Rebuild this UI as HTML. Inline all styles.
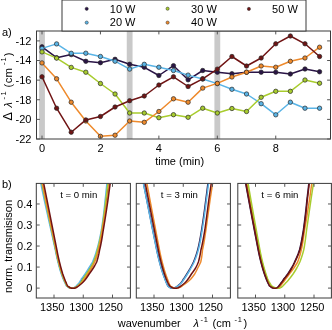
<!DOCTYPE html><html><head><meta charset="utf-8"><style>
html,body{margin:0;padding:0;background:#fff;}
svg{display:block;will-change:transform;}
text{font-family:"Liberation Sans", sans-serif;fill:#000;}
</style></head><body>
<svg xmlns="http://www.w3.org/2000/svg" width="332" height="330" viewBox="0 0 332 330">
<rect x="0" y="0" width="332" height="330" fill="#fff"/>
<rect x="39.10" y="31.00" width="5.80" height="108.00" fill="#c9c9c9"/>
<rect x="126.76" y="31.00" width="5.80" height="108.00" fill="#c9c9c9"/>
<rect x="214.42" y="31.00" width="5.80" height="108.00" fill="#c9c9c9"/>
<defs><clipPath id="ca"><rect x="36.5" y="31.0" width="294.0" height="108.0"/></clipPath>
<clipPath id="cb0"><rect x="36.3" y="183.4" width="94.1" height="114.6"/></clipPath>
<clipPath id="cb1"><rect x="136.3" y="183.4" width="94.1" height="114.6"/></clipPath>
<clipPath id="cb2"><rect x="237.8" y="183.4" width="93.6" height="114.6"/></clipPath>
</defs>
<g clip-path="url(#ca)">
<polyline points="42.00,46.80 56.61,57.70 71.22,54.60 85.83,61.30 100.44,62.70 115.05,59.30 129.66,64.30 144.27,67.30 158.88,75.50 173.49,65.70 188.10,79.80 202.71,70.50 217.32,72.20 231.93,73.70 246.54,72.20 261.15,72.20 275.76,72.20 290.37,74.00 304.98,69.00 319.59,71.80" fill="none" stroke="#2a1446" stroke-width="1.5" stroke-linejoin="round"/>
<circle cx="42.00" cy="46.80" r="2.2" fill="#2a1446" stroke="#2a2a2a" stroke-width="0.7"/>
<circle cx="56.61" cy="57.70" r="2.2" fill="#2a1446" stroke="#2a2a2a" stroke-width="0.7"/>
<circle cx="71.22" cy="54.60" r="2.2" fill="#2a1446" stroke="#2a2a2a" stroke-width="0.7"/>
<circle cx="85.83" cy="61.30" r="2.2" fill="#2a1446" stroke="#2a2a2a" stroke-width="0.7"/>
<circle cx="100.44" cy="62.70" r="2.2" fill="#2a1446" stroke="#2a2a2a" stroke-width="0.7"/>
<circle cx="115.05" cy="59.30" r="2.2" fill="#2a1446" stroke="#2a2a2a" stroke-width="0.7"/>
<circle cx="129.66" cy="64.30" r="2.2" fill="#2a1446" stroke="#2a2a2a" stroke-width="0.7"/>
<circle cx="144.27" cy="67.30" r="2.2" fill="#2a1446" stroke="#2a2a2a" stroke-width="0.7"/>
<circle cx="158.88" cy="75.50" r="2.2" fill="#2a1446" stroke="#2a2a2a" stroke-width="0.7"/>
<circle cx="173.49" cy="65.70" r="2.2" fill="#2a1446" stroke="#2a2a2a" stroke-width="0.7"/>
<circle cx="188.10" cy="79.80" r="2.2" fill="#2a1446" stroke="#2a2a2a" stroke-width="0.7"/>
<circle cx="202.71" cy="70.50" r="2.2" fill="#2a1446" stroke="#2a2a2a" stroke-width="0.7"/>
<circle cx="217.32" cy="72.20" r="2.2" fill="#2a1446" stroke="#2a2a2a" stroke-width="0.7"/>
<circle cx="231.93" cy="73.70" r="2.2" fill="#2a1446" stroke="#2a2a2a" stroke-width="0.7"/>
<circle cx="246.54" cy="72.20" r="2.2" fill="#2a1446" stroke="#2a2a2a" stroke-width="0.7"/>
<circle cx="261.15" cy="72.20" r="2.2" fill="#2a1446" stroke="#2a2a2a" stroke-width="0.7"/>
<circle cx="275.76" cy="72.20" r="2.2" fill="#2a1446" stroke="#2a2a2a" stroke-width="0.7"/>
<circle cx="290.37" cy="74.00" r="2.2" fill="#2a1446" stroke="#2a2a2a" stroke-width="0.7"/>
<circle cx="304.98" cy="69.00" r="2.2" fill="#2a1446" stroke="#2a2a2a" stroke-width="0.7"/>
<circle cx="319.59" cy="71.80" r="2.2" fill="#2a1446" stroke="#2a2a2a" stroke-width="0.7"/>
<polyline points="42.00,48.40 56.61,43.90 71.22,53.30 85.83,53.20 100.44,56.50 115.05,61.20 129.66,69.10 144.27,64.30 158.88,67.20 173.49,70.50 188.10,75.10 202.71,79.00 217.32,83.60 231.93,89.30 246.54,94.00 261.15,103.70 275.76,114.80 290.37,102.20 304.98,108.20 319.59,108.20" fill="none" stroke="#5ab4e6" stroke-width="1.5" stroke-linejoin="round"/>
<circle cx="42.00" cy="48.40" r="2.2" fill="#5ab4e6" stroke="#2a2a2a" stroke-width="0.7"/>
<circle cx="56.61" cy="43.90" r="2.2" fill="#5ab4e6" stroke="#2a2a2a" stroke-width="0.7"/>
<circle cx="71.22" cy="53.30" r="2.2" fill="#5ab4e6" stroke="#2a2a2a" stroke-width="0.7"/>
<circle cx="85.83" cy="53.20" r="2.2" fill="#5ab4e6" stroke="#2a2a2a" stroke-width="0.7"/>
<circle cx="100.44" cy="56.50" r="2.2" fill="#5ab4e6" stroke="#2a2a2a" stroke-width="0.7"/>
<circle cx="115.05" cy="61.20" r="2.2" fill="#5ab4e6" stroke="#2a2a2a" stroke-width="0.7"/>
<circle cx="129.66" cy="69.10" r="2.2" fill="#5ab4e6" stroke="#2a2a2a" stroke-width="0.7"/>
<circle cx="144.27" cy="64.30" r="2.2" fill="#5ab4e6" stroke="#2a2a2a" stroke-width="0.7"/>
<circle cx="158.88" cy="67.20" r="2.2" fill="#5ab4e6" stroke="#2a2a2a" stroke-width="0.7"/>
<circle cx="173.49" cy="70.50" r="2.2" fill="#5ab4e6" stroke="#2a2a2a" stroke-width="0.7"/>
<circle cx="188.10" cy="75.10" r="2.2" fill="#5ab4e6" stroke="#2a2a2a" stroke-width="0.7"/>
<circle cx="202.71" cy="79.00" r="2.2" fill="#5ab4e6" stroke="#2a2a2a" stroke-width="0.7"/>
<circle cx="217.32" cy="83.60" r="2.2" fill="#5ab4e6" stroke="#2a2a2a" stroke-width="0.7"/>
<circle cx="231.93" cy="89.30" r="2.2" fill="#5ab4e6" stroke="#2a2a2a" stroke-width="0.7"/>
<circle cx="246.54" cy="94.00" r="2.2" fill="#5ab4e6" stroke="#2a2a2a" stroke-width="0.7"/>
<circle cx="261.15" cy="103.70" r="2.2" fill="#5ab4e6" stroke="#2a2a2a" stroke-width="0.7"/>
<circle cx="275.76" cy="114.80" r="2.2" fill="#5ab4e6" stroke="#2a2a2a" stroke-width="0.7"/>
<circle cx="290.37" cy="102.20" r="2.2" fill="#5ab4e6" stroke="#2a2a2a" stroke-width="0.7"/>
<circle cx="304.98" cy="108.20" r="2.2" fill="#5ab4e6" stroke="#2a2a2a" stroke-width="0.7"/>
<circle cx="319.59" cy="108.20" r="2.2" fill="#5ab4e6" stroke="#2a2a2a" stroke-width="0.7"/>
<polyline points="42.00,51.90 56.61,58.10 71.22,67.40 85.83,72.20 100.44,83.50 115.05,94.00 129.66,113.00 144.27,113.00 158.88,117.70 173.49,114.70 188.10,117.30 202.71,108.20 217.32,113.00 231.93,108.50 246.54,111.50 261.15,97.30 275.76,91.30 290.37,91.30 304.98,80.00 319.59,83.20" fill="none" stroke="#a8cc2e" stroke-width="1.5" stroke-linejoin="round"/>
<circle cx="42.00" cy="51.90" r="2.2" fill="#a8cc2e" stroke="#2a2a2a" stroke-width="0.7"/>
<circle cx="56.61" cy="58.10" r="2.2" fill="#a8cc2e" stroke="#2a2a2a" stroke-width="0.7"/>
<circle cx="71.22" cy="67.40" r="2.2" fill="#a8cc2e" stroke="#2a2a2a" stroke-width="0.7"/>
<circle cx="85.83" cy="72.20" r="2.2" fill="#a8cc2e" stroke="#2a2a2a" stroke-width="0.7"/>
<circle cx="100.44" cy="83.50" r="2.2" fill="#a8cc2e" stroke="#2a2a2a" stroke-width="0.7"/>
<circle cx="115.05" cy="94.00" r="2.2" fill="#a8cc2e" stroke="#2a2a2a" stroke-width="0.7"/>
<circle cx="129.66" cy="113.00" r="2.2" fill="#a8cc2e" stroke="#2a2a2a" stroke-width="0.7"/>
<circle cx="144.27" cy="113.00" r="2.2" fill="#a8cc2e" stroke="#2a2a2a" stroke-width="0.7"/>
<circle cx="158.88" cy="117.70" r="2.2" fill="#a8cc2e" stroke="#2a2a2a" stroke-width="0.7"/>
<circle cx="173.49" cy="114.70" r="2.2" fill="#a8cc2e" stroke="#2a2a2a" stroke-width="0.7"/>
<circle cx="188.10" cy="117.30" r="2.2" fill="#a8cc2e" stroke="#2a2a2a" stroke-width="0.7"/>
<circle cx="202.71" cy="108.20" r="2.2" fill="#a8cc2e" stroke="#2a2a2a" stroke-width="0.7"/>
<circle cx="217.32" cy="113.00" r="2.2" fill="#a8cc2e" stroke="#2a2a2a" stroke-width="0.7"/>
<circle cx="231.93" cy="108.50" r="2.2" fill="#a8cc2e" stroke="#2a2a2a" stroke-width="0.7"/>
<circle cx="246.54" cy="111.50" r="2.2" fill="#a8cc2e" stroke="#2a2a2a" stroke-width="0.7"/>
<circle cx="261.15" cy="97.30" r="2.2" fill="#a8cc2e" stroke="#2a2a2a" stroke-width="0.7"/>
<circle cx="275.76" cy="91.30" r="2.2" fill="#a8cc2e" stroke="#2a2a2a" stroke-width="0.7"/>
<circle cx="290.37" cy="91.30" r="2.2" fill="#a8cc2e" stroke="#2a2a2a" stroke-width="0.7"/>
<circle cx="304.98" cy="80.00" r="2.2" fill="#a8cc2e" stroke="#2a2a2a" stroke-width="0.7"/>
<circle cx="319.59" cy="83.20" r="2.2" fill="#a8cc2e" stroke="#2a2a2a" stroke-width="0.7"/>
<polyline points="42.00,62.90 56.61,78.80 71.22,102.20 85.83,121.00 100.44,136.30 115.05,135.20 129.66,121.00 144.27,122.30 158.88,111.50 173.49,98.80 188.10,102.20 202.71,88.10 217.32,83.40 231.93,77.00 246.54,72.20 261.15,66.00 275.76,67.20 290.37,61.30 304.98,58.00 319.59,47.20" fill="none" stroke="#ee8a2c" stroke-width="1.5" stroke-linejoin="round"/>
<circle cx="42.00" cy="62.90" r="2.2" fill="#ee8a2c" stroke="#2a2a2a" stroke-width="0.7"/>
<circle cx="56.61" cy="78.80" r="2.2" fill="#ee8a2c" stroke="#2a2a2a" stroke-width="0.7"/>
<circle cx="71.22" cy="102.20" r="2.2" fill="#ee8a2c" stroke="#2a2a2a" stroke-width="0.7"/>
<circle cx="85.83" cy="121.00" r="2.2" fill="#ee8a2c" stroke="#2a2a2a" stroke-width="0.7"/>
<circle cx="100.44" cy="136.30" r="2.2" fill="#ee8a2c" stroke="#2a2a2a" stroke-width="0.7"/>
<circle cx="115.05" cy="135.20" r="2.2" fill="#ee8a2c" stroke="#2a2a2a" stroke-width="0.7"/>
<circle cx="129.66" cy="121.00" r="2.2" fill="#ee8a2c" stroke="#2a2a2a" stroke-width="0.7"/>
<circle cx="144.27" cy="122.30" r="2.2" fill="#ee8a2c" stroke="#2a2a2a" stroke-width="0.7"/>
<circle cx="158.88" cy="111.50" r="2.2" fill="#ee8a2c" stroke="#2a2a2a" stroke-width="0.7"/>
<circle cx="173.49" cy="98.80" r="2.2" fill="#ee8a2c" stroke="#2a2a2a" stroke-width="0.7"/>
<circle cx="188.10" cy="102.20" r="2.2" fill="#ee8a2c" stroke="#2a2a2a" stroke-width="0.7"/>
<circle cx="202.71" cy="88.10" r="2.2" fill="#ee8a2c" stroke="#2a2a2a" stroke-width="0.7"/>
<circle cx="217.32" cy="83.40" r="2.2" fill="#ee8a2c" stroke="#2a2a2a" stroke-width="0.7"/>
<circle cx="231.93" cy="77.00" r="2.2" fill="#ee8a2c" stroke="#2a2a2a" stroke-width="0.7"/>
<circle cx="246.54" cy="72.20" r="2.2" fill="#ee8a2c" stroke="#2a2a2a" stroke-width="0.7"/>
<circle cx="261.15" cy="66.00" r="2.2" fill="#ee8a2c" stroke="#2a2a2a" stroke-width="0.7"/>
<circle cx="275.76" cy="67.20" r="2.2" fill="#ee8a2c" stroke="#2a2a2a" stroke-width="0.7"/>
<circle cx="290.37" cy="61.30" r="2.2" fill="#ee8a2c" stroke="#2a2a2a" stroke-width="0.7"/>
<circle cx="304.98" cy="58.00" r="2.2" fill="#ee8a2c" stroke="#2a2a2a" stroke-width="0.7"/>
<circle cx="319.59" cy="47.20" r="2.2" fill="#ee8a2c" stroke="#2a2a2a" stroke-width="0.7"/>
<polyline points="42.00,76.80 56.61,108.20 71.22,132.20 85.83,119.90 100.44,116.50 115.05,107.00 129.66,100.70 144.27,96.00 158.88,85.00 173.49,76.80 188.10,86.50 202.71,78.80 217.32,69.10 231.93,56.50 246.54,66.00 261.15,58.00 275.76,43.80 290.37,36.00 304.98,43.80 319.59,56.50" fill="none" stroke="#701414" stroke-width="1.5" stroke-linejoin="round"/>
<circle cx="42.00" cy="76.80" r="2.2" fill="#701414" stroke="#2a2a2a" stroke-width="0.7"/>
<circle cx="56.61" cy="108.20" r="2.2" fill="#701414" stroke="#2a2a2a" stroke-width="0.7"/>
<circle cx="71.22" cy="132.20" r="2.2" fill="#701414" stroke="#2a2a2a" stroke-width="0.7"/>
<circle cx="85.83" cy="119.90" r="2.2" fill="#701414" stroke="#2a2a2a" stroke-width="0.7"/>
<circle cx="100.44" cy="116.50" r="2.2" fill="#701414" stroke="#2a2a2a" stroke-width="0.7"/>
<circle cx="115.05" cy="107.00" r="2.2" fill="#701414" stroke="#2a2a2a" stroke-width="0.7"/>
<circle cx="129.66" cy="100.70" r="2.2" fill="#701414" stroke="#2a2a2a" stroke-width="0.7"/>
<circle cx="144.27" cy="96.00" r="2.2" fill="#701414" stroke="#2a2a2a" stroke-width="0.7"/>
<circle cx="158.88" cy="85.00" r="2.2" fill="#701414" stroke="#2a2a2a" stroke-width="0.7"/>
<circle cx="173.49" cy="76.80" r="2.2" fill="#701414" stroke="#2a2a2a" stroke-width="0.7"/>
<circle cx="188.10" cy="86.50" r="2.2" fill="#701414" stroke="#2a2a2a" stroke-width="0.7"/>
<circle cx="202.71" cy="78.80" r="2.2" fill="#701414" stroke="#2a2a2a" stroke-width="0.7"/>
<circle cx="217.32" cy="69.10" r="2.2" fill="#701414" stroke="#2a2a2a" stroke-width="0.7"/>
<circle cx="231.93" cy="56.50" r="2.2" fill="#701414" stroke="#2a2a2a" stroke-width="0.7"/>
<circle cx="246.54" cy="66.00" r="2.2" fill="#701414" stroke="#2a2a2a" stroke-width="0.7"/>
<circle cx="261.15" cy="58.00" r="2.2" fill="#701414" stroke="#2a2a2a" stroke-width="0.7"/>
<circle cx="275.76" cy="43.80" r="2.2" fill="#701414" stroke="#2a2a2a" stroke-width="0.7"/>
<circle cx="290.37" cy="36.00" r="2.2" fill="#701414" stroke="#2a2a2a" stroke-width="0.7"/>
<circle cx="304.98" cy="43.80" r="2.2" fill="#701414" stroke="#2a2a2a" stroke-width="0.7"/>
<circle cx="319.59" cy="56.50" r="2.2" fill="#701414" stroke="#2a2a2a" stroke-width="0.7"/>
</g>
<rect x="36.50" y="31.00" width="294.00" height="108.00" fill="none" stroke="#3a3a3a" stroke-width="1"/>
<path d="M42.00 139.00V135.60M42.00 31.00V34.40M100.44 139.00V135.60M100.44 31.00V34.40M158.88 139.00V135.60M158.88 31.00V34.40M217.32 139.00V135.60M217.32 31.00V34.40M275.76 139.00V135.60M275.76 31.00V34.40M36.50 40.90H39.90M330.50 40.90H327.10M36.50 60.52H39.90M330.50 60.52H327.10M36.50 80.14H39.90M330.50 80.14H327.10M36.50 99.76H39.90M330.50 99.76H327.10M36.50 119.38H39.90M330.50 119.38H327.10M36.50 139.00H39.90M330.50 139.00H327.10" stroke="#555" stroke-width="1.0" fill="none"/>
<text x="42.00" y="151.8" font-size="11" text-anchor="middle">0</text>
<text x="100.44" y="151.8" font-size="11" text-anchor="middle">2</text>
<text x="158.88" y="151.8" font-size="11" text-anchor="middle">4</text>
<text x="217.32" y="151.8" font-size="11" text-anchor="middle">6</text>
<text x="275.76" y="151.8" font-size="11" text-anchor="middle">8</text>
<text x="31.4" y="44.80" font-size="11" text-anchor="end">-12</text>
<text x="31.4" y="64.42" font-size="11" text-anchor="end">-14</text>
<text x="31.4" y="84.04" font-size="11" text-anchor="end">-16</text>
<text x="31.4" y="103.66" font-size="11" text-anchor="end">-18</text>
<text x="31.4" y="123.28" font-size="11" text-anchor="end">-20</text>
<text x="31.4" y="142.90" font-size="11" text-anchor="end">-22</text>
<text x="155.2" y="165.4" font-size="11">time (min)</text>
<text x="2.0" y="35.8" font-size="11">a)</text>
<g transform="translate(11.8,0) rotate(-90)"><text x="-120.60" y="0.30" font-size="12.40">&#916;</text><text x="-107.40" y="0.00" font-size="11.00" font-style="italic">&#955;</text><text x="-99.60" y="-5.90" font-size="7.50">-</text><text x="-95.60" y="-5.90" font-size="7.50">1</text><text x="-87.40" y="0.00" font-size="11.00">(</text><text x="-83.20" y="0.00" font-size="11.30">cm</text><text x="-65.00" y="-5.90" font-size="7.50">-</text><text x="-61.60" y="-5.90" font-size="7.50">1</text><text x="-56.30" y="0.00" font-size="11.00">)</text></g>
<rect x="62" y="0" width="244" height="31" fill="#fff" stroke="#3a3a3a" stroke-width="1"/>
<circle cx="86.7" cy="8.8" r="1.6" fill="#2a1446" stroke="#2a2a2a" stroke-width="0.5"/>
<circle cx="86.7" cy="22.6" r="1.6" fill="#5ab4e6" stroke="#2a2a2a" stroke-width="0.5"/>
<circle cx="167.6" cy="8.7" r="1.6" fill="#a8cc2e" stroke="#2a2a2a" stroke-width="0.5"/>
<circle cx="167.6" cy="22.6" r="1.6" fill="#ee8a2c" stroke="#2a2a2a" stroke-width="0.5"/>
<circle cx="248.9" cy="8.9" r="1.6" fill="#701414" stroke="#2a2a2a" stroke-width="0.5"/>
<text x="135.5" y="12.7" font-size="11" text-anchor="end">10 W</text>
<text x="135.5" y="26.0" font-size="11" text-anchor="end">20 W</text>
<text x="216.8" y="12.7" font-size="11" text-anchor="end">30 W</text>
<text x="216.8" y="26.0" font-size="11" text-anchor="end">40 W</text>
<text x="297.8" y="12.7" font-size="11" text-anchor="end">50 W</text>
<g clip-path="url(#cb0)">
<path d="M40.07 175.00 40.27 176.00 40.47 177.00 40.67 178.00 40.87 179.00 41.07 180.00 41.27 181.00 41.47 182.00 41.67 183.00 41.87 184.00 42.08 185.00 42.28 186.00 42.49 187.00 42.70 188.00 42.91 189.00 43.12 190.00 43.33 191.00 43.53 192.00 43.74 193.00 43.95 194.00 44.16 195.00 44.37 196.00 44.58 197.00 44.78 198.00 44.99 199.00 45.20 200.00 45.41 201.00 45.62 202.00 45.84 203.00 46.05 204.00 46.26 205.00 46.47 206.00 46.68 207.00 46.90 208.00 47.11 209.00 47.32 210.00 47.53 211.00 47.74 212.00 47.96 213.00 48.17 214.00 48.38 215.00 48.59 216.00 48.80 217.00 49.01 218.00 49.23 219.00 49.44 220.00 49.65 221.00 49.86 222.00 50.07 223.00 50.29 224.00 50.50 225.00 50.71 226.00 50.92 227.00 51.13 228.00 51.34 229.00 51.56 230.00 51.77 231.00 51.98 232.00 52.19 233.00 52.40 234.00 52.61 235.00 52.82 236.00 53.04 237.00 53.25 238.00 53.46 239.00 53.67 240.00 53.88 241.00 54.09 242.00 54.30 243.00 54.52 244.00 54.73 245.00 54.94 246.00 55.15 247.00 55.36 248.00 55.57 249.00 55.78 250.00 55.98 251.00 56.17 252.00 56.38 253.00 56.58 254.00 56.80 255.00 57.02 256.00 57.24 257.00 57.47 258.00 57.70 259.00 57.94 260.00 58.18 261.00 58.43 262.00 58.68 263.00 58.94 264.00 59.20 265.00 59.47 266.00 59.74 267.00 60.02 268.00 60.30 269.00 60.59 270.00 60.89 271.00 61.19 272.00 61.51 273.00 61.83 274.00 62.18 275.00 62.54 276.00 62.92 277.00 63.30 278.00 63.68 279.00 64.11 280.00 64.56 281.00 65.03 282.00 65.53 283.00 65.98 284.00 66.47 285.00 67.01 286.00 68.43 287.01 69.87 287.73 71.35 288.16 72.76 288.30 73.71 288.16 74.68 287.73 75.69 287.01 77.00 286.00 78.03 285.00 79.05 284.00 80.02 283.00 80.69 282.00 81.28 281.00 81.82 280.00 82.31 279.00 83.09 278.00 83.84 277.00 84.54 276.00 85.23 275.00 85.90 274.00 86.65 273.00 87.38 272.00 88.10 271.00 88.80 270.00 89.47 269.00 90.13 268.00 90.74 267.00 91.34 266.00 91.91 265.00 92.46 264.00 92.99 263.00 93.51 262.00 93.93 261.00 94.33 260.00 94.73 259.00 95.11 258.00 95.48 257.00 95.83 256.00 96.17 255.00 96.49 254.00 96.80 253.00 97.09 252.00 97.37 251.00 97.64 250.00 97.95 249.00 98.25 248.00 98.53 247.00 98.81 246.00 99.07 245.00 99.32 244.00 99.57 243.00 99.81 242.00 100.05 241.00 100.28 240.00 100.50 239.00 100.72 238.00 100.94 237.00 101.15 236.00 101.35 235.00 101.55 234.00 101.75 233.00 101.94 232.00 102.14 231.00 102.33 230.00 102.49 229.00 102.65 228.00 102.81 227.00 102.96 226.00 103.11 225.00 103.26 224.00 103.41 223.00 103.56 222.00 103.70 221.00 103.84 220.00 103.98 219.00 104.12 218.00 104.26 217.00 104.39 216.00 104.52 215.00 104.65 214.00 104.78 213.00 104.91 212.00 105.03 211.00 105.15 210.00 105.27 209.00 105.39 208.00 105.51 207.00 105.62 206.00 105.73 205.00 105.84 204.00 105.95 203.00 106.05 202.00 106.15 201.00 106.26 200.00 106.37 199.00 106.49 198.00 106.60 197.00 106.71 196.00 106.82 195.00 106.93 194.00 107.03 193.00 107.14 192.00 107.24 191.00 107.34 190.00 107.44 189.00 107.54 188.00 107.64 187.00 107.73 186.00 107.83 185.00 107.92 184.00 108.05 183.00 108.18 182.00 108.32 181.00 108.45 180.00 108.58 179.00 108.71 178.00 108.84 177.00 108.97 176.00 109.10 175.00" fill="none" stroke="#2a1446" stroke-width="1.5" stroke-linejoin="round"/>
<path d="M39.17 175.00 39.37 176.00 39.57 177.00 39.77 178.00 39.97 179.00 40.17 180.00 40.37 181.00 40.57 182.00 40.77 183.00 40.97 184.00 41.18 185.00 41.38 186.00 41.59 187.00 41.80 188.00 42.01 189.00 42.22 190.00 42.43 191.00 42.63 192.00 42.84 193.00 43.05 194.00 43.26 195.00 43.47 196.00 43.68 197.00 43.88 198.00 44.09 199.00 44.30 200.00 44.52 201.00 44.74 202.00 44.97 203.00 45.19 204.00 45.41 205.00 45.63 206.00 45.85 207.00 46.08 208.00 46.30 209.00 46.52 210.00 46.74 211.00 46.96 212.00 47.19 213.00 47.41 214.00 47.63 215.00 47.85 216.00 48.07 217.00 48.29 218.00 48.52 219.00 48.74 220.00 48.96 221.00 49.18 222.00 49.40 223.00 49.63 224.00 49.85 225.00 50.07 226.00 50.29 227.00 50.51 228.00 50.73 229.00 50.96 230.00 51.18 231.00 51.40 232.00 51.62 233.00 51.84 234.00 52.06 235.00 52.28 236.00 52.51 237.00 52.73 238.00 52.95 239.00 53.17 240.00 53.39 241.00 53.61 242.00 53.83 243.00 54.06 244.00 54.28 245.00 54.50 246.00 54.72 247.00 54.94 248.00 55.16 249.00 55.38 250.00 55.57 251.00 55.77 252.00 55.96 253.00 56.17 254.00 56.38 255.00 56.59 256.00 56.81 257.00 57.03 258.00 57.26 259.00 57.50 260.00 57.73 261.00 57.98 262.00 58.23 263.00 58.48 264.00 58.74 265.00 59.00 266.00 59.27 267.00 59.54 268.00 59.82 269.00 60.11 270.00 60.40 271.00 60.70 272.00 61.01 273.00 61.33 274.00 61.68 275.00 62.04 276.00 62.42 277.00 62.80 278.00 63.18 279.00 63.61 280.00 64.06 281.00 64.53 282.00 65.03 283.00 65.46 284.00 65.93 285.00 66.45 286.00 67.85 287.01 69.27 287.73 70.75 288.16 72.15 288.30 73.06 288.16 73.99 287.73 74.97 287.01 76.18 286.00 77.15 285.00 78.11 284.00 79.04 283.00 79.70 282.00 80.30 281.00 80.84 280.00 81.34 279.00 82.16 278.00 82.94 277.00 83.68 276.00 84.40 275.00 85.10 274.00 85.77 273.00 86.43 272.00 87.08 271.00 87.70 270.00 88.30 269.00 88.88 268.00 89.53 267.00 90.17 266.00 90.79 265.00 91.38 264.00 91.95 263.00 92.51 262.00 92.94 261.00 93.36 260.00 93.77 259.00 94.16 258.00 94.54 257.00 94.90 256.00 95.25 255.00 95.59 254.00 95.91 253.00 96.21 252.00 96.51 251.00 96.79 250.00 97.10 249.00 97.39 248.00 97.68 247.00 97.95 246.00 98.21 245.00 98.46 244.00 98.70 243.00 98.94 242.00 99.17 241.00 99.40 240.00 99.62 239.00 99.84 238.00 100.05 237.00 100.26 236.00 100.46 235.00 100.66 234.00 100.86 233.00 101.05 232.00 101.24 231.00 101.43 230.00 101.58 229.00 101.74 228.00 101.89 227.00 102.03 226.00 102.18 225.00 102.32 224.00 102.47 223.00 102.60 222.00 102.74 221.00 102.88 220.00 103.01 219.00 103.14 218.00 103.27 217.00 103.40 216.00 103.52 215.00 103.65 214.00 103.77 213.00 103.89 212.00 104.00 211.00 104.12 210.00 104.23 209.00 104.34 208.00 104.45 207.00 104.56 206.00 104.66 205.00 104.77 204.00 104.87 203.00 104.96 202.00 105.06 201.00 105.16 200.00 105.27 199.00 105.39 198.00 105.50 197.00 105.61 196.00 105.72 195.00 105.83 194.00 105.93 193.00 106.04 192.00 106.14 191.00 106.24 190.00 106.34 189.00 106.44 188.00 106.54 187.00 106.63 186.00 106.73 185.00 106.82 184.00 106.95 183.00 107.08 182.00 107.22 181.00 107.35 180.00 107.48 179.00 107.61 178.00 107.74 177.00 107.87 176.00 108.00 175.00" fill="none" stroke="#5ab4e6" stroke-width="1.5" stroke-linejoin="round"/>
<path d="M40.24 175.00 40.44 176.00 40.64 177.00 40.84 178.00 41.04 179.00 41.24 180.00 41.44 181.00 41.64 182.00 41.84 183.00 42.04 184.00 42.25 185.00 42.45 186.00 42.65 187.00 42.86 188.00 43.06 189.00 43.26 190.00 43.47 191.00 43.67 192.00 43.88 193.00 44.08 194.00 44.28 195.00 44.49 196.00 44.69 197.00 44.90 198.00 45.10 199.00 45.30 200.00 45.51 201.00 45.72 202.00 45.93 203.00 46.14 204.00 46.35 205.00 46.56 206.00 46.77 207.00 46.97 208.00 47.18 209.00 47.39 210.00 47.60 211.00 47.81 212.00 48.02 213.00 48.23 214.00 48.44 215.00 48.65 216.00 48.86 217.00 49.07 218.00 49.28 219.00 49.49 220.00 49.70 221.00 49.91 222.00 50.11 223.00 50.32 224.00 50.53 225.00 50.74 226.00 50.95 227.00 51.16 228.00 51.38 229.00 51.59 230.00 51.80 231.00 52.01 232.00 52.22 233.00 52.43 234.00 52.64 235.00 52.85 236.00 53.06 237.00 53.27 238.00 53.48 239.00 53.69 240.00 53.90 241.00 54.11 242.00 54.32 243.00 54.53 244.00 54.75 245.00 54.96 246.00 55.17 247.00 55.38 248.00 55.59 249.00 55.80 250.00 56.00 251.00 56.19 252.00 56.40 253.00 56.61 254.00 56.82 255.00 57.04 256.00 57.26 257.00 57.49 258.00 57.72 259.00 57.96 260.00 58.21 261.00 58.46 262.00 58.71 263.00 58.97 264.00 59.23 265.00 59.50 266.00 59.78 267.00 60.06 268.00 60.34 269.00 60.63 270.00 60.93 271.00 61.23 272.00 61.55 273.00 61.88 274.00 62.23 275.00 62.60 276.00 62.97 277.00 63.36 278.00 63.74 279.00 64.16 280.00 64.59 281.00 65.05 282.00 65.54 283.00 65.97 284.00 66.45 285.00 66.97 286.00 68.34 287.01 69.75 287.73 71.18 288.16 72.57 288.30 73.63 288.16 74.71 287.73 75.82 287.01 77.24 286.00 78.36 285.00 79.46 284.00 80.52 283.00 81.26 282.00 81.93 281.00 82.52 280.00 83.07 279.00 83.81 278.00 84.51 277.00 85.18 276.00 85.83 275.00 86.46 274.00 87.17 273.00 87.87 272.00 88.55 271.00 89.21 270.00 89.85 269.00 90.47 268.00 91.05 267.00 91.61 266.00 92.15 265.00 92.67 264.00 93.17 263.00 93.66 262.00 94.05 261.00 94.43 260.00 94.79 259.00 95.14 258.00 95.48 257.00 95.81 256.00 96.12 255.00 96.42 254.00 96.70 253.00 96.97 252.00 97.23 251.00 97.47 250.00 97.76 249.00 98.04 248.00 98.31 247.00 98.56 246.00 98.80 245.00 99.04 244.00 99.27 243.00 99.49 242.00 99.71 241.00 99.93 240.00 100.14 239.00 100.34 238.00 100.54 237.00 100.74 236.00 100.93 235.00 101.12 234.00 101.31 233.00 101.50 232.00 101.68 231.00 101.86 230.00 102.02 229.00 102.17 228.00 102.32 227.00 102.47 226.00 102.61 225.00 102.76 224.00 102.90 223.00 103.05 222.00 103.19 221.00 103.33 220.00 103.47 219.00 103.60 218.00 103.74 217.00 103.88 216.00 104.01 215.00 104.14 214.00 104.27 213.00 104.40 212.00 104.53 211.00 104.65 210.00 104.78 209.00 104.90 208.00 105.03 207.00 105.15 206.00 105.27 205.00 105.38 204.00 105.50 203.00 105.62 202.00 105.73 201.00 105.84 200.00 105.97 199.00 106.10 198.00 106.23 197.00 106.35 196.00 106.48 195.00 106.60 194.00 106.72 193.00 106.84 192.00 106.97 191.00 107.09 190.00 107.21 189.00 107.32 188.00 107.44 187.00 107.56 186.00 107.68 185.00 107.79 184.00 107.92 183.00 108.05 182.00 108.18 181.00 108.32 180.00 108.45 179.00 108.58 178.00 108.71 177.00 108.84 176.00 108.97 175.00" fill="none" stroke="#a8cc2e" stroke-width="1.5" stroke-linejoin="round"/>
<path d="M40.78 175.00 40.98 176.00 41.18 177.00 41.38 178.00 41.58 179.00 41.78 180.00 41.98 181.00 42.18 182.00 42.38 183.00 42.58 184.00 42.78 185.00 42.98 186.00 43.18 187.00 43.39 188.00 43.59 189.00 43.79 190.00 43.99 191.00 44.20 192.00 44.40 193.00 44.60 194.00 44.80 195.00 45.01 196.00 45.21 197.00 45.41 198.00 45.62 199.00 45.82 200.00 46.03 201.00 46.23 202.00 46.44 203.00 46.65 204.00 46.86 205.00 47.06 206.00 47.27 207.00 47.48 208.00 47.68 209.00 47.89 210.00 48.10 211.00 48.31 212.00 48.51 213.00 48.72 214.00 48.93 215.00 49.14 216.00 49.35 217.00 49.55 218.00 49.76 219.00 49.97 220.00 50.18 221.00 50.39 222.00 50.59 223.00 50.80 224.00 51.01 225.00 51.22 226.00 51.43 227.00 51.64 228.00 51.84 229.00 52.05 230.00 52.26 231.00 52.47 232.00 52.68 233.00 52.89 234.00 53.10 235.00 53.31 236.00 53.51 237.00 53.72 238.00 53.93 239.00 54.14 240.00 54.35 241.00 54.56 242.00 54.77 243.00 54.98 244.00 55.19 245.00 55.40 246.00 55.61 247.00 55.82 248.00 56.03 249.00 56.24 250.00 56.43 251.00 56.62 252.00 56.83 253.00 57.03 254.00 57.24 255.00 57.46 256.00 57.68 257.00 57.91 258.00 58.14 259.00 58.38 260.00 58.62 261.00 58.87 262.00 59.12 263.00 59.38 264.00 59.64 265.00 59.91 266.00 60.18 267.00 60.46 268.00 60.74 269.00 61.03 270.00 61.32 271.00 61.63 272.00 61.94 273.00 62.27 274.00 62.62 275.00 62.98 276.00 63.35 277.00 63.73 278.00 64.12 279.00 64.53 280.00 64.96 281.00 65.42 282.00 65.90 283.00 66.33 284.00 66.80 285.00 67.31 286.00 68.68 287.01 70.07 287.73 71.49 288.16 72.90 288.30 74.12 288.16 75.35 287.73 76.63 287.01 78.00 286.00 79.16 285.00 80.29 284.00 81.38 283.00 82.26 282.00 83.05 281.00 83.77 280.00 84.43 279.00 85.15 278.00 85.84 277.00 86.50 276.00 87.13 275.00 87.76 274.00 88.43 273.00 89.09 272.00 89.74 271.00 90.37 270.00 90.98 269.00 91.57 268.00 92.15 267.00 92.72 266.00 93.27 265.00 93.79 264.00 94.29 263.00 94.78 262.00 95.16 261.00 95.52 260.00 95.88 259.00 96.22 258.00 96.55 257.00 96.86 256.00 97.16 255.00 97.45 254.00 97.72 253.00 97.98 252.00 98.23 251.00 98.47 250.00 98.72 249.00 98.97 248.00 99.21 247.00 99.43 246.00 99.64 245.00 99.85 244.00 100.05 243.00 100.24 242.00 100.43 241.00 100.62 240.00 100.81 239.00 100.98 238.00 101.16 237.00 101.33 236.00 101.50 235.00 101.66 234.00 101.83 233.00 101.99 232.00 102.15 231.00 102.32 230.00 102.49 229.00 102.66 228.00 102.84 227.00 103.01 226.00 103.18 225.00 103.35 224.00 103.52 223.00 103.69 222.00 103.85 221.00 104.02 220.00 104.19 219.00 104.35 218.00 104.52 217.00 104.68 216.00 104.84 215.00 105.00 214.00 105.16 213.00 105.33 212.00 105.48 211.00 105.64 210.00 105.80 209.00 105.96 208.00 106.11 207.00 106.27 206.00 106.42 205.00 106.58 204.00 106.73 203.00 106.88 202.00 107.03 201.00 107.18 200.00 107.32 199.00 107.46 198.00 107.59 197.00 107.73 196.00 107.86 195.00 108.00 194.00 108.13 193.00 108.27 192.00 108.40 191.00 108.54 190.00 108.67 189.00 108.80 188.00 108.94 187.00 109.07 186.00 109.20 185.00 109.33 184.00 109.47 183.00 109.60 182.00 109.73 181.00 109.86 180.00 109.99 179.00 110.12 178.00 110.25 177.00 110.38 176.00 110.51 175.00" fill="none" stroke="#ee8a2c" stroke-width="1.5" stroke-linejoin="round"/>
<path d="M42.00 175.00 42.20 176.00 42.40 177.00 42.60 178.00 42.80 179.00 43.00 180.00 43.20 181.00 43.40 182.00 43.60 183.00 43.80 184.00 44.00 185.00 44.20 186.00 44.40 187.00 44.60 188.00 44.80 189.00 45.00 190.00 45.20 191.00 45.40 192.00 45.60 193.00 45.80 194.00 46.00 195.00 46.20 196.00 46.40 197.00 46.60 198.00 46.80 199.00 47.00 200.00 47.20 201.00 47.40 202.00 47.59 203.00 47.79 204.00 47.99 205.00 48.19 206.00 48.39 207.00 48.58 208.00 48.78 209.00 48.98 210.00 49.18 211.00 49.38 212.00 49.57 213.00 49.77 214.00 49.97 215.00 50.17 216.00 50.37 217.00 50.56 218.00 50.76 219.00 50.96 220.00 51.16 221.00 51.36 222.00 51.55 223.00 51.75 224.00 51.95 225.00 52.15 226.00 52.35 227.00 52.54 228.00 52.74 229.00 52.94 230.00 53.14 231.00 53.34 232.00 53.53 233.00 53.73 234.00 53.93 235.00 54.13 236.00 54.33 237.00 54.52 238.00 54.72 239.00 54.92 240.00 55.12 241.00 55.32 242.00 55.51 243.00 55.71 244.00 55.91 245.00 56.11 246.00 56.31 247.00 56.50 248.00 56.70 249.00 56.90 250.00 57.09 251.00 57.28 252.00 57.47 253.00 57.67 254.00 57.88 255.00 58.09 256.00 58.31 257.00 58.53 258.00 58.75 259.00 58.98 260.00 59.22 261.00 59.46 262.00 59.71 263.00 59.96 264.00 60.21 265.00 60.47 266.00 60.74 267.00 61.01 268.00 61.29 269.00 61.57 270.00 61.86 271.00 62.15 272.00 62.46 273.00 62.78 274.00 63.13 275.00 63.48 276.00 63.85 277.00 64.22 278.00 64.61 279.00 65.00 280.00 65.41 281.00 65.85 282.00 66.31 283.00 66.72 284.00 67.16 285.00 67.65 286.00 68.96 287.01 70.28 287.73 71.65 288.16 73.03 288.30 74.41 288.16 75.82 287.73 77.26 287.01 78.65 286.00 79.87 285.00 81.07 284.00 82.21 283.00 83.23 282.00 84.16 281.00 85.00 280.00 85.77 279.00 86.51 278.00 87.21 277.00 87.88 276.00 88.53 275.00 89.17 274.00 89.90 273.00 90.62 272.00 91.33 271.00 92.01 270.00 92.68 269.00 93.33 268.00 93.94 267.00 94.53 266.00 95.10 265.00 95.65 264.00 96.18 263.00 96.69 262.00 97.00 261.00 97.30 260.00 97.58 259.00 97.86 258.00 98.12 257.00 98.37 256.00 98.60 255.00 98.83 254.00 99.03 253.00 99.23 252.00 99.41 251.00 99.58 250.00 99.83 249.00 100.07 248.00 100.30 247.00 100.52 246.00 100.73 245.00 100.92 244.00 101.12 243.00 101.31 242.00 101.49 241.00 101.68 240.00 101.85 239.00 102.03 238.00 102.20 237.00 102.36 236.00 102.53 235.00 102.68 234.00 102.84 233.00 103.00 232.00 103.16 231.00 103.32 230.00 103.48 229.00 103.65 228.00 103.81 227.00 103.98 226.00 104.14 225.00 104.30 224.00 104.46 223.00 104.62 222.00 104.79 221.00 104.94 220.00 105.10 219.00 105.26 218.00 105.42 217.00 105.58 216.00 105.73 215.00 105.89 214.00 106.04 213.00 106.20 212.00 106.35 211.00 106.50 210.00 106.65 209.00 106.80 208.00 106.96 207.00 107.10 206.00 107.25 205.00 107.40 204.00 107.55 203.00 107.70 202.00 107.84 201.00 107.99 200.00 108.12 199.00 108.26 198.00 108.39 197.00 108.53 196.00 108.66 195.00 108.79 194.00 108.93 193.00 109.06 192.00 109.19 191.00 109.33 190.00 109.46 189.00 109.59 188.00 109.73 187.00 109.86 186.00 109.99 185.00 110.12 184.00 110.25 183.00 110.39 182.00 110.52 181.00 110.65 180.00 110.78 179.00 110.91 178.00 111.04 177.00 111.17 176.00 111.30 175.00" fill="none" stroke="#701414" stroke-width="1.5" stroke-linejoin="round"/>
</g>
<rect x="36.30" y="183.40" width="94.10" height="114.60" fill="none" stroke="#3a3a3a" stroke-width="1"/>
<g clip-path="url(#cb1)">
<path d="M141.93 175.00 142.13 176.00 142.33 177.00 142.53 178.00 142.73 179.00 142.93 180.00 143.13 181.00 143.33 182.00 143.53 183.00 143.73 184.00 143.92 185.00 144.12 186.00 144.32 187.00 144.51 188.00 144.71 189.00 144.91 190.00 145.10 191.00 145.30 192.00 145.50 193.00 145.69 194.00 145.89 195.00 146.09 196.00 146.28 197.00 146.48 198.00 146.68 199.00 146.88 200.00 147.07 201.00 147.27 202.00 147.47 203.00 147.67 204.00 147.86 205.00 148.06 206.00 148.26 207.00 148.46 208.00 148.66 209.00 148.86 210.00 149.05 211.00 149.25 212.00 149.45 213.00 149.65 214.00 149.85 215.00 150.05 216.00 150.25 217.00 150.44 218.00 150.64 219.00 150.84 220.00 151.04 221.00 151.24 222.00 151.44 223.00 151.64 224.00 151.84 225.00 152.04 226.00 152.24 227.00 152.44 228.00 152.64 229.00 152.84 230.00 153.04 231.00 153.24 232.00 153.44 233.00 153.64 234.00 153.84 235.00 154.04 236.00 154.24 237.00 154.44 238.00 154.65 239.00 154.85 240.00 155.05 241.00 155.25 242.00 155.45 243.00 155.65 244.00 155.85 245.00 156.05 246.00 156.26 247.00 156.46 248.00 156.66 249.00 156.86 250.00 157.07 251.00 157.28 252.00 157.49 253.00 157.71 254.00 157.94 255.00 158.17 256.00 158.40 257.00 158.64 258.00 158.89 259.00 159.14 260.00 159.39 261.00 159.65 262.00 159.92 263.00 160.19 264.00 160.46 265.00 160.74 266.00 161.03 267.00 161.32 268.00 161.62 269.00 161.92 270.00 162.23 271.00 162.55 272.00 162.88 273.00 163.22 274.00 163.56 275.00 163.92 276.00 164.29 277.00 164.67 278.00 165.06 279.00 165.41 280.00 165.77 281.00 166.15 282.00 166.56 283.00 166.99 284.00 167.45 285.00 167.95 286.00 169.16 287.01 170.37 287.73 171.59 288.16 172.78 288.30 173.89 288.16 175.00 287.73 176.10 287.01 177.57 286.00 178.69 285.00 179.80 284.00 180.86 283.00 181.64 282.00 182.34 281.00 182.96 280.00 183.54 279.00 184.27 278.00 184.96 277.00 185.61 276.00 186.24 275.00 186.86 274.00 187.49 273.00 188.11 272.00 188.71 271.00 189.29 270.00 189.85 269.00 190.39 268.00 190.96 267.00 191.51 266.00 192.04 265.00 192.55 264.00 193.04 263.00 193.51 262.00 193.93 261.00 194.33 260.00 194.73 259.00 195.11 258.00 195.47 257.00 195.83 256.00 196.17 255.00 196.49 254.00 196.80 253.00 197.10 252.00 197.39 251.00 197.66 250.00 197.93 249.00 198.18 248.00 198.42 247.00 198.65 246.00 198.87 245.00 199.08 244.00 199.29 243.00 199.49 242.00 199.68 241.00 199.88 240.00 200.06 239.00 200.25 238.00 200.43 237.00 200.60 236.00 200.77 235.00 200.94 234.00 201.10 233.00 201.27 232.00 201.43 231.00 201.60 230.00 201.75 229.00 201.91 228.00 202.06 227.00 202.22 226.00 202.37 225.00 202.52 224.00 202.67 223.00 202.82 222.00 202.96 221.00 203.11 220.00 203.26 219.00 203.40 218.00 203.54 217.00 203.68 216.00 203.82 215.00 203.96 214.00 204.10 213.00 204.24 212.00 204.38 211.00 204.51 210.00 204.64 209.00 204.78 208.00 204.91 207.00 205.04 206.00 205.17 205.00 205.30 204.00 205.42 203.00 205.55 202.00 205.67 201.00 205.80 200.00 205.93 199.00 206.06 198.00 206.19 197.00 206.33 196.00 206.46 195.00 206.58 194.00 206.71 193.00 206.84 192.00 206.97 191.00 207.10 190.00 207.22 189.00 207.35 188.00 207.47 187.00 207.60 186.00 207.72 185.00 207.85 184.00 207.98 183.00 208.11 182.00 208.24 181.00 208.37 180.00 208.50 179.00 208.63 178.00 208.76 177.00 208.89 176.00 209.02 175.00" fill="none" stroke="#2a1446" stroke-width="1.5" stroke-linejoin="round"/>
<path d="M141.73 175.00 141.93 176.00 142.13 177.00 142.33 178.00 142.53 179.00 142.73 180.00 142.93 181.00 143.13 182.00 143.33 183.00 143.53 184.00 143.72 185.00 143.92 186.00 144.12 187.00 144.31 188.00 144.51 189.00 144.71 190.00 144.90 191.00 145.10 192.00 145.30 193.00 145.49 194.00 145.69 195.00 145.89 196.00 146.08 197.00 146.28 198.00 146.48 199.00 146.68 200.00 146.87 201.00 147.07 202.00 147.27 203.00 147.47 204.00 147.66 205.00 147.86 206.00 148.06 207.00 148.26 208.00 148.46 209.00 148.66 210.00 148.85 211.00 149.05 212.00 149.25 213.00 149.45 214.00 149.65 215.00 149.85 216.00 150.05 217.00 150.24 218.00 150.44 219.00 150.64 220.00 150.84 221.00 151.04 222.00 151.24 223.00 151.44 224.00 151.64 225.00 151.84 226.00 152.04 227.00 152.24 228.00 152.44 229.00 152.64 230.00 152.84 231.00 153.04 232.00 153.24 233.00 153.44 234.00 153.64 235.00 153.84 236.00 154.04 237.00 154.24 238.00 154.45 239.00 154.65 240.00 154.85 241.00 155.05 242.00 155.25 243.00 155.45 244.00 155.65 245.00 155.85 246.00 156.06 247.00 156.26 248.00 156.46 249.00 156.66 250.00 156.87 251.00 157.08 252.00 157.29 253.00 157.51 254.00 157.74 255.00 157.97 256.00 158.20 257.00 158.44 258.00 158.69 259.00 158.94 260.00 159.19 261.00 159.45 262.00 159.72 263.00 159.99 264.00 160.26 265.00 160.54 266.00 160.83 267.00 161.12 268.00 161.42 269.00 161.72 270.00 162.03 271.00 162.35 272.00 162.68 273.00 163.02 274.00 163.36 275.00 163.72 276.00 164.09 277.00 164.47 278.00 164.86 279.00 165.22 280.00 165.59 281.00 165.98 282.00 166.40 283.00 166.84 284.00 167.31 285.00 167.82 286.00 169.07 287.01 170.31 287.73 171.56 288.16 172.79 288.30 173.97 288.16 175.14 287.73 176.31 287.01 177.84 286.00 179.02 285.00 180.18 284.00 181.30 283.00 182.12 282.00 182.86 281.00 183.53 280.00 184.14 279.00 184.87 278.00 185.56 277.00 186.21 276.00 186.84 275.00 187.46 274.00 188.09 273.00 188.71 272.00 189.31 271.00 189.89 270.00 190.45 269.00 190.99 268.00 191.56 267.00 192.11 266.00 192.64 265.00 193.15 264.00 193.64 263.00 194.11 262.00 194.53 261.00 194.93 260.00 195.33 259.00 195.71 258.00 196.07 257.00 196.43 256.00 196.77 255.00 197.09 254.00 197.40 253.00 197.70 252.00 197.99 251.00 198.26 250.00 198.53 249.00 198.78 248.00 199.02 247.00 199.25 246.00 199.47 245.00 199.68 244.00 199.89 243.00 200.09 242.00 200.28 241.00 200.48 240.00 200.66 239.00 200.85 238.00 201.03 237.00 201.20 236.00 201.37 235.00 201.54 234.00 201.70 233.00 201.87 232.00 202.03 231.00 202.20 230.00 202.35 229.00 202.51 228.00 202.66 227.00 202.82 226.00 202.97 225.00 203.12 224.00 203.27 223.00 203.42 222.00 203.56 221.00 203.71 220.00 203.86 219.00 204.00 218.00 204.14 217.00 204.28 216.00 204.42 215.00 204.56 214.00 204.70 213.00 204.84 212.00 204.98 211.00 205.11 210.00 205.24 209.00 205.38 208.00 205.51 207.00 205.64 206.00 205.77 205.00 205.90 204.00 206.02 203.00 206.15 202.00 206.27 201.00 206.40 200.00 206.53 199.00 206.66 198.00 206.79 197.00 206.93 196.00 207.06 195.00 207.18 194.00 207.31 193.00 207.44 192.00 207.57 191.00 207.70 190.00 207.82 189.00 207.95 188.00 208.07 187.00 208.20 186.00 208.32 185.00 208.45 184.00 208.58 183.00 208.71 182.00 208.84 181.00 208.97 180.00 209.10 179.00 209.23 178.00 209.36 177.00 209.49 176.00 209.62 175.00" fill="none" stroke="#5ab4e6" stroke-width="1.5" stroke-linejoin="round"/>
<path d="M145.19 175.00 145.39 176.00 145.59 177.00 145.79 178.00 145.99 179.00 146.19 180.00 146.39 181.00 146.59 182.00 146.79 183.00 146.99 184.00 147.18 185.00 147.36 186.00 147.55 187.00 147.73 188.00 147.92 189.00 148.10 190.00 148.29 191.00 148.47 192.00 148.66 193.00 148.84 194.00 149.03 195.00 149.21 196.00 149.40 197.00 149.58 198.00 149.77 199.00 149.96 200.00 150.14 201.00 150.33 202.00 150.52 203.00 150.70 204.00 150.89 205.00 151.08 206.00 151.26 207.00 151.45 208.00 151.64 209.00 151.83 210.00 152.02 211.00 152.20 212.00 152.39 213.00 152.58 214.00 152.77 215.00 152.96 216.00 153.14 217.00 153.33 218.00 153.52 219.00 153.71 220.00 153.90 221.00 154.09 222.00 154.28 223.00 154.47 224.00 154.66 225.00 154.85 226.00 155.04 227.00 155.23 228.00 155.42 229.00 155.61 230.00 155.80 231.00 155.99 232.00 156.18 233.00 156.37 234.00 156.56 235.00 156.76 236.00 156.95 237.00 157.14 238.00 157.33 239.00 157.52 240.00 157.71 241.00 157.91 242.00 158.10 243.00 158.29 244.00 158.48 245.00 158.68 246.00 158.87 247.00 159.06 248.00 159.25 249.00 159.45 250.00 159.64 251.00 159.84 252.00 160.05 253.00 160.26 254.00 160.48 255.00 160.70 256.00 160.93 257.00 161.16 258.00 161.40 259.00 161.64 260.00 161.89 261.00 162.14 262.00 162.40 263.00 162.66 264.00 162.93 265.00 163.20 266.00 163.48 267.00 163.76 268.00 164.05 269.00 164.34 270.00 164.64 271.00 164.95 272.00 165.28 273.00 165.61 274.00 165.95 275.00 166.30 276.00 166.66 277.00 167.04 278.00 167.42 279.00 167.79 280.00 168.18 281.00 168.59 282.00 169.02 283.00 169.48 284.00 169.97 285.00 170.51 286.00 171.81 287.01 173.11 287.73 174.41 288.16 175.76 288.30 177.30 288.16 178.84 287.73 180.38 287.01 182.12 286.00 183.53 285.00 184.92 284.00 186.25 283.00 187.54 282.00 188.73 281.00 189.81 280.00 190.83 279.00 191.66 278.00 192.46 277.00 193.23 276.00 193.97 275.00 194.71 274.00 195.25 273.00 195.78 272.00 196.30 271.00 196.80 270.00 197.29 269.00 197.75 268.00 198.29 267.00 198.82 266.00 199.32 265.00 199.81 264.00 200.28 263.00 200.73 262.00 200.94 261.00 201.13 260.00 201.32 259.00 201.49 258.00 201.66 257.00 201.81 256.00 201.95 255.00 202.07 254.00 202.19 253.00 202.29 252.00 202.38 251.00 202.45 250.00 202.68 249.00 202.90 248.00 203.11 247.00 203.31 246.00 203.49 245.00 203.67 244.00 203.85 243.00 204.02 242.00 204.19 241.00 204.36 240.00 204.53 239.00 204.69 238.00 204.85 237.00 205.00 236.00 205.15 235.00 205.30 234.00 205.45 233.00 205.61 232.00 205.76 231.00 205.91 230.00 206.04 229.00 206.18 228.00 206.32 227.00 206.45 226.00 206.59 225.00 206.72 224.00 206.86 223.00 207.00 222.00 207.13 221.00 207.27 220.00 207.41 219.00 207.55 218.00 207.69 217.00 207.82 216.00 207.96 215.00 208.10 214.00 208.24 213.00 208.38 212.00 208.52 211.00 208.66 210.00 208.80 209.00 208.94 208.00 209.08 207.00 209.22 206.00 209.36 205.00 209.50 204.00 209.64 203.00 209.78 202.00 209.92 201.00 210.06 200.00 210.21 199.00 210.36 198.00 210.51 197.00 210.66 196.00 210.82 195.00 210.97 194.00 211.12 193.00 211.28 192.00 211.43 191.00 211.59 190.00 211.74 189.00 211.90 188.00 212.06 187.00 212.21 186.00 212.37 185.00 212.53 184.00 212.67 183.00 212.80 182.00 212.93 181.00 213.06 180.00 213.19 179.00 213.32 178.00 213.45 177.00 213.58 176.00 213.71 175.00" fill="none" stroke="#ee8a2c" stroke-width="1.5" stroke-linejoin="round"/>
<path d="M143.58 175.00 143.78 176.00 143.98 177.00 144.18 178.00 144.38 179.00 144.58 180.00 144.78 181.00 144.98 182.00 145.18 183.00 145.38 184.00 145.57 185.00 145.77 186.00 145.97 187.00 146.16 188.00 146.36 189.00 146.56 190.00 146.75 191.00 146.95 192.00 147.15 193.00 147.34 194.00 147.54 195.00 147.74 196.00 147.93 197.00 148.13 198.00 148.32 199.00 148.52 200.00 148.72 201.00 148.91 202.00 149.11 203.00 149.31 204.00 149.50 205.00 149.70 206.00 149.90 207.00 150.09 208.00 150.29 209.00 150.48 210.00 150.68 211.00 150.88 212.00 151.07 213.00 151.27 214.00 151.46 215.00 151.66 216.00 151.86 217.00 152.05 218.00 152.25 219.00 152.44 220.00 152.64 221.00 152.84 222.00 153.03 223.00 153.23 224.00 153.42 225.00 153.62 226.00 153.82 227.00 154.01 228.00 154.21 229.00 154.40 230.00 154.60 231.00 154.79 232.00 154.99 233.00 155.19 234.00 155.38 235.00 155.58 236.00 155.77 237.00 155.97 238.00 156.16 239.00 156.36 240.00 156.55 241.00 156.75 242.00 156.95 243.00 157.14 244.00 157.34 245.00 157.53 246.00 157.73 247.00 157.92 248.00 158.12 249.00 158.31 250.00 158.51 251.00 158.71 252.00 158.92 253.00 159.14 254.00 159.35 255.00 159.58 256.00 159.80 257.00 160.04 258.00 160.27 259.00 160.52 260.00 160.76 261.00 161.02 262.00 161.28 263.00 161.54 264.00 161.81 265.00 162.08 266.00 162.36 267.00 162.64 268.00 162.93 269.00 163.22 270.00 163.52 271.00 163.83 272.00 164.15 273.00 164.48 274.00 164.82 275.00 165.17 276.00 165.53 277.00 165.90 278.00 166.28 279.00 166.69 280.00 167.12 281.00 167.57 282.00 168.05 283.00 168.56 284.00 169.10 285.00 169.69 286.00 171.13 287.01 172.56 287.73 174.00 288.16 175.42 288.30 176.74 288.16 178.05 287.73 179.37 287.01 180.97 286.00 182.23 285.00 183.48 284.00 184.67 283.00 185.65 282.00 186.55 281.00 187.36 280.00 188.11 279.00 188.83 278.00 189.52 277.00 190.17 276.00 190.80 275.00 191.43 274.00 192.17 273.00 192.90 272.00 193.62 271.00 194.31 270.00 194.99 269.00 195.65 268.00 196.15 267.00 196.64 266.00 197.11 265.00 197.55 264.00 197.98 263.00 198.39 262.00 198.67 261.00 198.93 260.00 199.18 259.00 199.42 258.00 199.65 257.00 199.86 256.00 200.07 255.00 200.26 254.00 200.43 253.00 200.60 252.00 200.75 251.00 200.89 250.00 201.15 249.00 201.39 248.00 201.63 247.00 201.86 246.00 202.07 245.00 202.28 244.00 202.48 243.00 202.68 242.00 202.88 241.00 203.07 240.00 203.26 239.00 203.45 238.00 203.63 237.00 203.81 236.00 203.98 235.00 204.16 234.00 204.33 233.00 204.50 232.00 204.67 231.00 204.85 230.00 204.98 229.00 205.12 228.00 205.25 227.00 205.39 226.00 205.52 225.00 205.65 224.00 205.79 223.00 205.92 222.00 206.06 221.00 206.19 220.00 206.32 219.00 206.45 218.00 206.59 217.00 206.72 216.00 206.85 215.00 206.98 214.00 207.11 213.00 207.24 212.00 207.37 211.00 207.51 210.00 207.64 209.00 207.77 208.00 207.90 207.00 208.03 206.00 208.15 205.00 208.28 204.00 208.41 203.00 208.54 202.00 208.67 201.00 208.80 200.00 208.94 199.00 209.09 198.00 209.23 197.00 209.38 196.00 209.52 195.00 209.67 194.00 209.82 193.00 209.96 192.00 210.11 191.00 210.26 190.00 210.40 189.00 210.55 188.00 210.70 187.00 210.85 186.00 210.99 185.00 211.14 184.00 211.28 183.00 211.41 182.00 211.54 181.00 211.67 180.00 211.80 179.00 211.93 178.00 212.06 177.00 212.19 176.00 212.32 175.00" fill="none" stroke="#701414" stroke-width="1.5" stroke-linejoin="round"/>
</g>
<rect x="136.30" y="183.40" width="94.10" height="114.60" fill="none" stroke="#3a3a3a" stroke-width="1"/>
<g clip-path="url(#cb2)">
<path d="M244.00 175.00 244.20 176.00 244.40 177.00 244.60 178.00 244.80 179.00 245.00 180.00 245.20 181.00 245.40 182.00 245.60 183.00 245.80 184.00 245.99 185.00 246.17 186.00 246.35 187.00 246.53 188.00 246.71 189.00 246.90 190.00 247.08 191.00 247.26 192.00 247.45 193.00 247.63 194.00 247.81 195.00 248.00 196.00 248.18 197.00 248.37 198.00 248.55 199.00 248.73 200.00 248.92 201.00 249.10 202.00 249.29 203.00 249.47 204.00 249.66 205.00 249.85 206.00 250.03 207.00 250.22 208.00 250.40 209.00 250.59 210.00 250.78 211.00 250.96 212.00 251.15 213.00 251.34 214.00 251.53 215.00 251.71 216.00 251.90 217.00 252.09 218.00 252.28 219.00 252.47 220.00 252.65 221.00 252.84 222.00 253.03 223.00 253.22 224.00 253.41 225.00 253.60 226.00 253.79 227.00 253.98 228.00 254.17 229.00 254.36 230.00 254.55 231.00 254.74 232.00 254.93 233.00 255.12 234.00 255.31 235.00 255.50 236.00 255.70 237.00 255.89 238.00 256.08 239.00 256.27 240.00 256.46 241.00 256.66 242.00 256.85 243.00 257.04 244.00 257.23 245.00 257.43 246.00 257.62 247.00 257.81 248.00 258.01 249.00 258.20 250.00 258.40 251.00 258.60 252.00 258.81 253.00 259.02 254.00 259.24 255.00 259.46 256.00 259.69 257.00 259.92 258.00 260.16 259.00 260.40 260.00 260.65 261.00 260.90 262.00 261.16 263.00 261.43 264.00 261.70 265.00 261.97 266.00 262.25 267.00 262.53 268.00 262.82 269.00 263.12 270.00 263.42 271.00 263.74 272.00 264.06 273.00 264.39 274.00 264.74 275.00 265.09 276.00 265.45 277.00 265.83 278.00 266.21 279.00 266.61 280.00 267.03 281.00 267.47 282.00 267.94 283.00 268.43 284.00 268.96 285.00 269.54 286.00 270.93 287.01 272.33 287.73 273.73 288.16 275.06 288.30 276.02 288.16 276.99 287.73 277.95 287.01 278.80 286.00 279.56 285.00 280.31 284.00 281.02 283.00 281.80 282.00 282.52 281.00 283.17 280.00 283.78 279.00 284.63 278.00 285.45 277.00 286.23 276.00 286.99 275.00 287.73 274.00 288.40 273.00 289.05 272.00 289.69 271.00 290.31 270.00 290.91 269.00 291.49 268.00 292.04 267.00 292.58 266.00 293.10 265.00 293.59 264.00 294.07 263.00 294.52 262.00 295.01 261.00 295.48 260.00 295.94 259.00 296.39 258.00 296.83 257.00 297.25 256.00 297.65 255.00 298.05 254.00 298.42 253.00 298.79 252.00 299.14 251.00 299.48 250.00 299.75 249.00 300.00 248.00 300.24 247.00 300.47 246.00 300.69 245.00 300.90 244.00 301.11 243.00 301.31 242.00 301.51 241.00 301.70 240.00 301.88 239.00 302.06 238.00 302.24 237.00 302.41 236.00 302.58 235.00 302.75 234.00 302.91 233.00 303.07 232.00 303.23 231.00 303.39 230.00 303.53 229.00 303.66 228.00 303.80 227.00 303.93 226.00 304.06 225.00 304.19 224.00 304.32 223.00 304.45 222.00 304.58 221.00 304.70 220.00 304.82 219.00 304.94 218.00 305.06 217.00 305.18 216.00 305.30 215.00 305.42 214.00 305.53 213.00 305.64 212.00 305.76 211.00 305.87 210.00 305.98 209.00 306.08 208.00 306.19 207.00 306.29 206.00 306.40 205.00 306.50 204.00 306.60 203.00 306.70 202.00 306.79 201.00 306.89 200.00 307.01 199.00 307.14 198.00 307.26 197.00 307.38 196.00 307.50 195.00 307.62 194.00 307.74 193.00 307.86 192.00 307.98 191.00 308.10 190.00 308.21 189.00 308.33 188.00 308.44 187.00 308.55 186.00 308.66 185.00 308.78 184.00 308.91 183.00 309.04 182.00 309.17 181.00 309.30 180.00 309.43 179.00 309.56 178.00 309.69 177.00 309.82 176.00 309.95 175.00" fill="none" stroke="#2a1446" stroke-width="1.5" stroke-linejoin="round"/>
<path d="M245.10 175.00 245.30 176.00 245.50 177.00 245.70 178.00 245.90 179.00 246.10 180.00 246.30 181.00 246.50 182.00 246.70 183.00 246.90 184.00 247.09 185.00 247.27 186.00 247.45 187.00 247.63 188.00 247.81 189.00 248.00 190.00 248.18 191.00 248.36 192.00 248.55 193.00 248.73 194.00 248.91 195.00 249.10 196.00 249.28 197.00 249.47 198.00 249.65 199.00 249.83 200.00 250.02 201.00 250.20 202.00 250.39 203.00 250.57 204.00 250.76 205.00 250.95 206.00 251.13 207.00 251.32 208.00 251.50 209.00 251.69 210.00 251.88 211.00 252.06 212.00 252.25 213.00 252.44 214.00 252.63 215.00 252.81 216.00 253.00 217.00 253.19 218.00 253.38 219.00 253.57 220.00 253.75 221.00 253.94 222.00 254.13 223.00 254.32 224.00 254.51 225.00 254.70 226.00 254.89 227.00 255.08 228.00 255.27 229.00 255.46 230.00 255.65 231.00 255.84 232.00 256.03 233.00 256.22 234.00 256.41 235.00 256.60 236.00 256.80 237.00 256.99 238.00 257.18 239.00 257.37 240.00 257.56 241.00 257.76 242.00 257.95 243.00 258.14 244.00 258.33 245.00 258.53 246.00 258.72 247.00 258.91 248.00 259.11 249.00 259.30 250.00 259.50 251.00 259.70 252.00 259.91 253.00 260.12 254.00 260.34 255.00 260.56 256.00 260.79 257.00 261.02 258.00 261.26 259.00 261.50 260.00 261.75 261.00 262.00 262.00 262.26 263.00 262.53 264.00 262.80 265.00 263.07 266.00 263.35 267.00 263.63 268.00 263.92 269.00 264.22 270.00 264.52 271.00 264.84 272.00 265.16 273.00 265.49 274.00 265.84 275.00 266.19 276.00 266.55 277.00 266.93 278.00 267.31 279.00 267.72 280.00 268.15 281.00 268.60 282.00 269.08 283.00 269.58 284.00 270.12 285.00 270.71 286.00 272.14 287.01 273.57 287.73 275.01 288.16 276.37 288.30 277.43 288.16 278.49 287.73 279.54 287.01 280.36 286.00 281.14 285.00 281.90 284.00 282.62 283.00 283.46 282.00 284.23 281.00 284.92 280.00 285.57 279.00 286.38 278.00 287.16 277.00 287.90 276.00 288.62 275.00 289.33 274.00 290.12 273.00 290.90 272.00 291.67 271.00 292.41 270.00 293.14 269.00 293.84 268.00 294.53 267.00 295.19 266.00 295.84 265.00 296.46 264.00 297.07 263.00 297.65 262.00 298.02 261.00 298.38 260.00 298.72 259.00 299.05 258.00 299.37 257.00 299.68 256.00 299.97 255.00 300.25 254.00 300.51 253.00 300.76 252.00 301.00 251.00 301.23 250.00 301.46 249.00 301.68 248.00 301.89 247.00 302.09 246.00 302.27 245.00 302.45 244.00 302.62 243.00 302.79 242.00 302.96 241.00 303.12 240.00 303.27 239.00 303.43 238.00 303.57 237.00 303.72 236.00 303.86 235.00 304.00 234.00 304.13 233.00 304.27 232.00 304.40 231.00 304.54 230.00 304.71 229.00 304.89 228.00 305.06 227.00 305.24 226.00 305.41 225.00 305.58 224.00 305.75 223.00 305.92 222.00 306.09 221.00 306.26 220.00 306.42 219.00 306.59 218.00 306.75 217.00 306.92 216.00 307.08 215.00 307.25 214.00 307.41 213.00 307.57 212.00 307.73 211.00 307.89 210.00 308.05 209.00 308.21 208.00 308.36 207.00 308.52 206.00 308.68 205.00 308.83 204.00 308.98 203.00 309.14 202.00 309.29 201.00 309.44 200.00 309.59 199.00 309.73 198.00 309.87 197.00 310.02 196.00 310.16 195.00 310.30 194.00 310.44 193.00 310.59 192.00 310.73 191.00 310.87 190.00 311.01 189.00 311.15 188.00 311.29 187.00 311.43 186.00 311.57 185.00 311.71 184.00 311.84 183.00 311.98 182.00 312.11 181.00 312.24 180.00 312.37 179.00 312.50 178.00 312.63 177.00 312.76 176.00 312.89 175.00" fill="none" stroke="#ee8a2c" stroke-width="1.5" stroke-linejoin="round"/>
<path d="M246.35 175.00 246.55 176.00 246.75 177.00 246.95 178.00 247.15 179.00 247.35 180.00 247.55 181.00 247.75 182.00 247.95 183.00 248.15 184.00 248.32 185.00 248.50 186.00 248.67 187.00 248.84 188.00 249.01 189.00 249.18 190.00 249.35 191.00 249.53 192.00 249.70 193.00 249.87 194.00 250.04 195.00 250.22 196.00 250.39 197.00 250.56 198.00 250.74 199.00 250.91 200.00 251.09 201.00 251.26 202.00 251.44 203.00 251.61 204.00 251.79 205.00 251.96 206.00 252.14 207.00 252.32 208.00 252.49 209.00 252.67 210.00 252.84 211.00 253.02 212.00 253.20 213.00 253.38 214.00 253.55 215.00 253.73 216.00 253.91 217.00 254.09 218.00 254.27 219.00 254.45 220.00 254.63 221.00 254.80 222.00 254.98 223.00 255.16 224.00 255.34 225.00 255.52 226.00 255.70 227.00 255.89 228.00 256.07 229.00 256.25 230.00 256.43 231.00 256.61 232.00 256.79 233.00 256.97 234.00 257.16 235.00 257.34 236.00 257.52 237.00 257.71 238.00 257.89 239.00 258.07 240.00 258.26 241.00 258.44 242.00 258.62 243.00 258.81 244.00 258.99 245.00 259.18 246.00 259.36 247.00 259.55 248.00 259.74 249.00 259.92 250.00 260.11 251.00 260.30 252.00 260.50 253.00 260.71 254.00 260.92 255.00 261.13 256.00 261.35 257.00 261.58 258.00 261.81 259.00 262.04 260.00 262.28 261.00 262.53 262.00 262.78 263.00 263.04 264.00 263.30 265.00 263.57 266.00 263.84 267.00 264.12 268.00 264.40 269.00 264.69 270.00 264.98 271.00 265.29 272.00 265.61 273.00 265.93 274.00 266.27 275.00 266.62 276.00 266.97 277.00 267.34 278.00 267.72 279.00 268.19 280.00 268.69 281.00 269.21 282.00 269.76 283.00 270.35 284.00 270.97 285.00 271.65 286.00 273.31 287.01 274.96 287.73 276.62 288.16 278.20 288.30 279.39 288.16 280.59 287.73 281.78 287.01 282.86 286.00 283.82 285.00 284.76 284.00 285.65 283.00 286.66 282.00 287.59 281.00 288.43 280.00 289.22 279.00 290.05 278.00 290.84 277.00 291.60 276.00 292.33 275.00 293.06 274.00 293.72 273.00 294.37 272.00 295.00 271.00 295.62 270.00 296.21 269.00 296.79 268.00 297.34 267.00 297.88 266.00 298.40 265.00 298.90 264.00 299.38 263.00 299.84 262.00 300.23 261.00 300.60 260.00 300.97 259.00 301.32 258.00 301.66 257.00 301.98 256.00 302.30 255.00 302.60 254.00 302.89 253.00 303.17 252.00 303.43 251.00 303.68 250.00 303.89 249.00 304.08 248.00 304.27 247.00 304.44 246.00 304.60 245.00 304.75 244.00 304.90 243.00 305.05 242.00 305.20 241.00 305.34 240.00 305.48 239.00 305.61 238.00 305.74 237.00 305.87 236.00 305.99 235.00 306.11 234.00 306.24 233.00 306.36 232.00 306.48 231.00 306.60 230.00 306.75 229.00 306.89 228.00 307.04 227.00 307.18 226.00 307.33 225.00 307.47 224.00 307.62 223.00 307.76 222.00 307.91 221.00 308.05 220.00 308.20 219.00 308.34 218.00 308.49 217.00 308.63 216.00 308.78 215.00 308.92 214.00 309.06 213.00 309.21 212.00 309.35 211.00 309.49 210.00 309.64 209.00 309.78 208.00 309.93 207.00 310.07 206.00 310.21 205.00 310.36 204.00 310.50 203.00 310.64 202.00 310.79 201.00 310.93 200.00 311.08 199.00 311.23 198.00 311.38 197.00 311.53 196.00 311.68 195.00 311.83 194.00 311.99 193.00 312.14 192.00 312.29 191.00 312.45 190.00 312.60 189.00 312.76 188.00 312.91 187.00 313.07 186.00 313.22 185.00 313.38 184.00 313.51 183.00 313.64 182.00 313.77 181.00 313.90 180.00 314.04 179.00 314.17 178.00 314.30 177.00 314.43 176.00 314.56 175.00" fill="none" stroke="#a8cc2e" stroke-width="1.5" stroke-linejoin="round"/>
<path d="M244.30 175.00 244.50 176.00 244.70 177.00 244.90 178.00 245.10 179.00 245.30 180.00 245.50 181.00 245.70 182.00 245.90 183.00 246.10 184.00 246.29 185.00 246.47 186.00 246.65 187.00 246.83 188.00 247.01 189.00 247.20 190.00 247.38 191.00 247.56 192.00 247.75 193.00 247.93 194.00 248.11 195.00 248.30 196.00 248.48 197.00 248.67 198.00 248.85 199.00 249.03 200.00 249.22 201.00 249.40 202.00 249.59 203.00 249.77 204.00 249.96 205.00 250.15 206.00 250.33 207.00 250.52 208.00 250.70 209.00 250.89 210.00 251.08 211.00 251.26 212.00 251.45 213.00 251.64 214.00 251.83 215.00 252.01 216.00 252.20 217.00 252.39 218.00 252.58 219.00 252.77 220.00 252.95 221.00 253.14 222.00 253.33 223.00 253.52 224.00 253.71 225.00 253.90 226.00 254.09 227.00 254.28 228.00 254.47 229.00 254.66 230.00 254.85 231.00 255.04 232.00 255.23 233.00 255.42 234.00 255.61 235.00 255.80 236.00 256.00 237.00 256.19 238.00 256.38 239.00 256.57 240.00 256.76 241.00 256.96 242.00 257.15 243.00 257.34 244.00 257.53 245.00 257.73 246.00 257.92 247.00 258.11 248.00 258.31 249.00 258.50 250.00 258.70 251.00 258.90 252.00 259.11 253.00 259.32 254.00 259.54 255.00 259.76 256.00 259.99 257.00 260.22 258.00 260.46 259.00 260.70 260.00 260.95 261.00 261.20 262.00 261.46 263.00 261.73 264.00 262.00 265.00 262.27 266.00 262.55 267.00 262.83 268.00 263.12 269.00 263.42 270.00 263.72 271.00 264.04 272.00 264.36 273.00 264.69 274.00 265.04 275.00 265.39 276.00 265.75 277.00 266.13 278.00 266.51 279.00 266.91 280.00 267.32 281.00 267.76 282.00 268.22 283.00 268.71 284.00 269.23 285.00 269.80 286.00 271.18 287.01 272.56 287.73 273.95 288.16 275.26 288.30 276.25 288.16 277.24 287.73 278.22 287.01 279.09 286.00 279.87 285.00 280.64 284.00 281.36 283.00 282.16 282.00 282.89 281.00 283.56 280.00 284.18 279.00 285.03 278.00 285.85 277.00 286.63 276.00 287.39 275.00 288.13 274.00 288.80 273.00 289.45 272.00 290.09 271.00 290.71 270.00 291.31 269.00 291.89 268.00 292.44 267.00 292.98 266.00 293.50 265.00 293.99 264.00 294.47 263.00 294.92 262.00 295.41 261.00 295.88 260.00 296.34 259.00 296.79 258.00 297.23 257.00 297.65 256.00 298.05 255.00 298.45 254.00 298.82 253.00 299.19 252.00 299.54 251.00 299.88 250.00 300.15 249.00 300.40 248.00 300.64 247.00 300.87 246.00 301.09 245.00 301.30 244.00 301.51 243.00 301.71 242.00 301.91 241.00 302.10 240.00 302.28 239.00 302.46 238.00 302.64 237.00 302.81 236.00 302.98 235.00 303.15 234.00 303.31 233.00 303.47 232.00 303.63 231.00 303.79 230.00 303.93 229.00 304.06 228.00 304.20 227.00 304.33 226.00 304.46 225.00 304.59 224.00 304.72 223.00 304.85 222.00 304.98 221.00 305.10 220.00 305.22 219.00 305.34 218.00 305.46 217.00 305.58 216.00 305.70 215.00 305.82 214.00 305.93 213.00 306.04 212.00 306.16 211.00 306.27 210.00 306.38 209.00 306.48 208.00 306.59 207.00 306.69 206.00 306.80 205.00 306.90 204.00 307.00 203.00 307.10 202.00 307.19 201.00 307.29 200.00 307.41 199.00 307.54 198.00 307.66 197.00 307.78 196.00 307.90 195.00 308.02 194.00 308.14 193.00 308.26 192.00 308.38 191.00 308.50 190.00 308.61 189.00 308.73 188.00 308.84 187.00 308.95 186.00 309.06 185.00 309.18 184.00 309.31 183.00 309.44 182.00 309.57 181.00 309.70 180.00 309.83 179.00 309.96 178.00 310.09 177.00 310.22 176.00 310.35 175.00" fill="none" stroke="#701414" stroke-width="1.5" stroke-linejoin="round"/>
</g>
<rect x="237.80" y="183.40" width="93.60" height="114.60" fill="none" stroke="#3a3a3a" stroke-width="1"/>
<path d="M54.00 298.00V294.60M54.00 183.40V186.80M83.25 298.00V294.60M83.25 183.40V186.80M112.50 298.00V294.60M112.50 183.40V186.80M36.30 288.10H39.70M130.40 288.10H127.00M36.30 267.07H39.70M130.40 267.07H127.00M36.30 246.04H39.70M130.40 246.04H127.00M36.30 225.01H39.70M130.40 225.01H127.00M36.30 203.98H39.70M130.40 203.98H127.00M154.00 298.00V294.60M154.00 183.40V186.80M183.25 298.00V294.60M183.25 183.40V186.80M212.50 298.00V294.60M212.50 183.40V186.80M136.30 288.10H139.70M230.40 288.10H227.00M136.30 267.07H139.70M230.40 267.07H227.00M136.30 246.04H139.70M230.40 246.04H227.00M136.30 225.01H139.70M230.40 225.01H227.00M136.30 203.98H139.70M230.40 203.98H227.00M255.50 298.00V294.60M255.50 183.40V186.80M284.75 298.00V294.60M284.75 183.40V186.80M314.00 298.00V294.60M314.00 183.40V186.80M237.80 288.10H241.20M331.40 288.10H328.00M237.80 267.07H241.20M331.40 267.07H328.00M237.80 246.04H241.20M331.40 246.04H328.00M237.80 225.01H241.20M331.40 225.01H328.00M237.80 203.98H241.20M331.40 203.98H328.00" stroke="#555" stroke-width="1.0" fill="none"/>
<text x="52.20" y="311.2" font-size="11" text-anchor="middle">1350</text>
<text x="81.45" y="311.2" font-size="11" text-anchor="middle">1300</text>
<text x="110.70" y="311.2" font-size="11" text-anchor="middle">1250</text>
<text x="152.20" y="311.2" font-size="11" text-anchor="middle">1350</text>
<text x="181.45" y="311.2" font-size="11" text-anchor="middle">1300</text>
<text x="210.70" y="311.2" font-size="11" text-anchor="middle">1250</text>
<text x="253.70" y="311.2" font-size="11" text-anchor="middle">1350</text>
<text x="282.95" y="311.2" font-size="11" text-anchor="middle">1300</text>
<text x="312.20" y="311.2" font-size="11" text-anchor="middle">1250</text>
<text x="32.4" y="292.00" font-size="11" text-anchor="end">0</text>
<text x="32.4" y="270.97" font-size="11" text-anchor="end">0.1</text>
<text x="32.4" y="249.94" font-size="11" text-anchor="end">0.2</text>
<text x="32.4" y="228.91" font-size="11" text-anchor="end">0.3</text>
<text x="32.4" y="207.88" font-size="11" text-anchor="end">0.4</text>
<text x="2.0" y="187.6" font-size="11">b)</text>
<text x="60.2" y="198.0" font-size="9.6">t = 0 min</text>
<text x="160.8" y="198.0" font-size="9.6">t = 3 min</text>
<text x="261.3" y="198.0" font-size="9.6">t = 6 min</text>
<text transform="translate(11.8,292.9) rotate(-90)" font-size="11">norm. transmisison</text>
<text x="117.8" y="327" font-size="11">wavenumber</text>
<text x="193.4" y="327" font-size="11" font-style="italic">&#955;</text>
<text x="200.4" y="322.2" font-size="7.5">-</text>
<text x="203.7" y="322.2" font-size="7.5">1</text>
<text x="212.6" y="327" font-size="11">(cm</text>
<text x="234.5" y="322.2" font-size="7.5">-</text>
<text x="237.7" y="322.2" font-size="7.5">1</text>
<text x="243.5" y="327" font-size="11">)</text>
</svg></body></html>
